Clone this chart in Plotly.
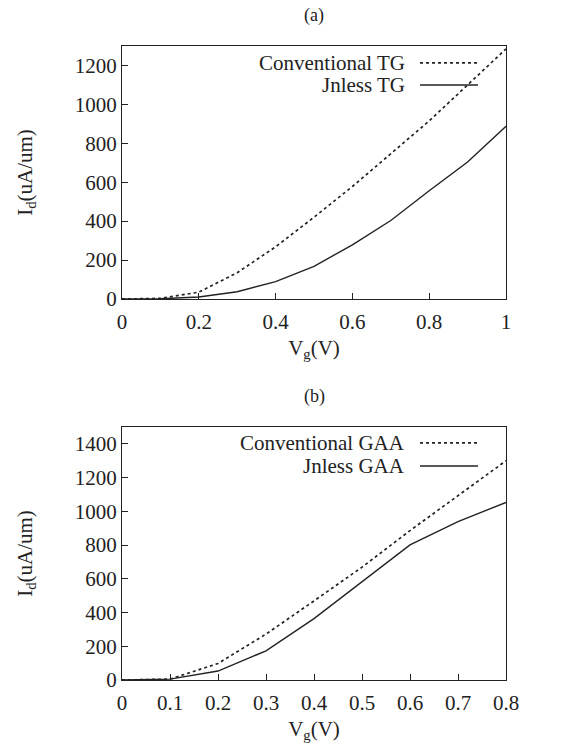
import plotly.graph_objects as go
from plotly.subplots import make_subplots

# Panel (a): Tri-gate
vg_a = [0.0, 0.1, 0.2, 0.3, 0.4, 0.5, 0.6, 0.7, 0.8, 0.9, 1.0]
conv_tg = [0, 3, 35, 135, 268, 420, 578, 745, 915, 1100, 1285]
jnless_tg = [0, 1, 10, 37, 89, 168, 278, 403, 556, 704, 888]

# Panel (b): Gate-all-around
vg_b = [0.0, 0.1, 0.2, 0.3, 0.4, 0.5, 0.6, 0.7, 0.8]
conv_gaa = [0, 5, 98, 272, 469, 669, 886, 1093, 1300]
jnless_gaa = [0, 5, 53, 173, 364, 581, 801, 939, 1053]

x_ticks_a = [0, 0.2, 0.4, 0.6, 0.8, 1]
x_labels_a = ["0", "0.2", "0.4", "0.6", "0.8", "1"]
y_ticks_a = [0, 200, 400, 600, 800, 1000, 1200]
x_ticks_b = [0, 0.1, 0.2, 0.3, 0.4, 0.5, 0.6, 0.7, 0.8]
x_labels_b = ["0", "0.1", "0.2", "0.3", "0.4", "0.5", "0.6", "0.7", "0.8"]
y_ticks_b = [0, 200, 400, 600, 800, 1000, 1200, 1400]

legend_a = ["Conventional TG", "Jnless TG"]
legend_b = ["Conventional GAA", "Jnless GAA"]

FONT = "Liberation Serif, Times New Roman, serif"
INK = "#222222"

fig = make_subplots(rows=2, cols=1, vertical_spacing=0.202)

line_dot = dict(color=INK, width=1.7, dash="dot")
line_solid = dict(color=INK, width=1.4)

fig.add_trace(go.Scatter(x=vg_a, y=conv_tg, mode="lines", line=line_dot,
                         name=legend_a[0], showlegend=False), row=1, col=1)
fig.add_trace(go.Scatter(x=vg_a, y=jnless_tg, mode="lines", line=line_solid,
                         name=legend_a[1], showlegend=False), row=1, col=1)
fig.add_trace(go.Scatter(x=vg_b, y=conv_gaa, mode="lines", line=line_dot,
                         name=legend_b[0], showlegend=False), row=2, col=1)
fig.add_trace(go.Scatter(x=vg_b, y=jnless_gaa, mode="lines", line=line_solid,
                         name=legend_b[1], showlegend=False), row=2, col=1)

axis_common = dict(showline=True, linecolor=INK, linewidth=1.3, mirror=True,
                   ticks="inside", ticklen=6, tickcolor=INK, tickwidth=1,
                   showgrid=False, zeroline=False, automargin=False,
                   tickfont=dict(family=FONT, size=21, color=INK))

xt = dict(text="V<sub>g</sub>(V)", font=dict(family=FONT, size=21, color=INK), standoff=6)
yt = dict(text="I<sub>d</sub>(uA/um)", font=dict(family=FONT, size=21, color=INK), standoff=36)

fig.update_xaxes(range=[0, 1], tickvals=x_ticks_a, ticktext=x_labels_a, title=xt,
                 ticklabelstandoff=4, row=1, col=1, **axis_common)
fig.update_yaxes(range=[0, 1300], tickvals=y_ticks_a, title=yt, row=1, col=1, **axis_common)
fig.update_xaxes(range=[0, 0.8], tickvals=x_ticks_b, ticktext=x_labels_b, title=xt,
                 ticklabelstandoff=4, row=2, col=1, **axis_common)
fig.update_yaxes(range=[0, 1500], tickvals=y_ticks_b, title=yt, row=2, col=1, **axis_common)

# Panel labels
for ref, lab in [("y", "(a)"), ("y2", "(b)")]:
    fig.add_annotation(text=lab, xref="x domain" if ref == "y" else "x2 domain",
                       yref=f"{ref} domain", x=0.5, y=1.0, yshift=31,
                       showarrow=False, yanchor="middle",
                       font=dict(family=FONT, size=18, color=INK))

# Gnuplot-style legends (text right-aligned, sample to its right)
def add_legend(xr, yr, labels, ys):
    styles = [dict(color=INK, width=1.7, dash="dot"), dict(color=INK, width=1.4)]
    for lab, yy, st in zip(labels, ys, styles):
        fig.add_annotation(text=lab, xref=xr, yref=yr, x=0.742, y=yy,
                           xanchor="right", yanchor="middle", showarrow=False,
                           font=dict(family=FONT, size=21, color=INK))
        fig.add_shape(type="line", xref=xr, yref=yr, x0=0.776, x1=0.927,
                      y0=yy, y1=yy, line=st)

add_legend("x domain", "y domain", legend_a, [0.933, 0.846])
add_legend("x2 domain", "y2 domain", legend_b, [0.937, 0.846])

fig.update_layout(width=581, height=744,
                  margin=dict(l=122, r=75, t=46, b=64, autoexpand=False),
                  paper_bgcolor="white", plot_bgcolor="white",
                  font=dict(family=FONT, color=INK))

fig.write_html("out.html")
